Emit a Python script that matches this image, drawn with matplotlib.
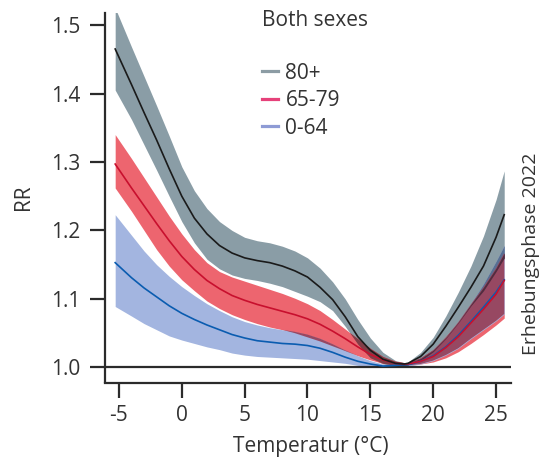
import numpy as np
import matplotlib
matplotlib.use("Agg")
import matplotlib.pyplot as plt
from matplotlib.colors import to_rgb
from matplotlib.lines import Line2D

plt.rcParams['font.family'] = ['Open Sans', 'DejaVu Sans']

# temperature grid (°C)
temps = [-5.3, -4, -3, -2, -1, 0, 1, 2, 3, 4, 5, 6, 7, 8, 9, 10, 11, 12, 13, 14,
         15, 16, 17, 17.7, 18, 19, 20, 21, 22, 23, 24, 25, 25.65]

# 80+
rr_80 = [1.465, 1.413, 1.372, 1.332, 1.290, 1.250, 1.218, 1.195, 1.178, 1.167, 1.160,
         1.156, 1.153, 1.148, 1.141, 1.132, 1.117, 1.099, 1.074, 1.045, 1.025, 1.012,
         1.006, 1.005, 1.006, 1.016, 1.034, 1.060, 1.088, 1.117, 1.148, 1.190, 1.223]
hi_80 = [1.525, 1.468, 1.425, 1.382, 1.338, 1.293, 1.258, 1.232, 1.213, 1.200, 1.190,
         1.185, 1.182, 1.177, 1.170, 1.160, 1.145, 1.125, 1.100, 1.070, 1.043, 1.022,
         1.010, 1.007, 1.008, 1.022, 1.044, 1.075, 1.110, 1.148, 1.192, 1.245, 1.287]
lo_80 = [1.405, 1.362, 1.325, 1.288, 1.250, 1.213, 1.182, 1.158, 1.144, 1.135, 1.130,
         1.127, 1.123, 1.118, 1.111, 1.104, 1.096, 1.083, 1.060, 1.034, 1.014, 1.005,
         1.003, 1.003, 1.004, 1.010, 1.023, 1.042, 1.065, 1.090, 1.112, 1.140, 1.160]

# 65-79
rr_65 = [1.297, 1.262, 1.236, 1.210, 1.185, 1.162, 1.143, 1.127, 1.115, 1.105, 1.098,
         1.092, 1.087, 1.082, 1.077, 1.071, 1.063, 1.053, 1.042, 1.030, 1.019, 1.011,
         1.006, 1.005, 1.005, 1.009, 1.016, 1.029, 1.045, 1.065, 1.085, 1.107, 1.127]
hi_65 = [1.340, 1.305, 1.277, 1.249, 1.221, 1.195, 1.172, 1.153, 1.140, 1.132, 1.126,
         1.120, 1.114, 1.108, 1.101, 1.093, 1.083, 1.070, 1.056, 1.042, 1.028, 1.016,
         1.009, 1.007, 1.007, 1.014, 1.026, 1.045, 1.066, 1.092, 1.117, 1.145, 1.167]
lo_65 = [1.262, 1.228, 1.200, 1.172, 1.148, 1.128, 1.112, 1.097, 1.086, 1.077, 1.070,
         1.064, 1.059, 1.055, 1.050, 1.044, 1.038, 1.031, 1.024, 1.017, 1.011, 1.006,
         1.003, 1.003, 1.003, 1.005, 1.008, 1.014, 1.023, 1.035, 1.048, 1.062, 1.072]

# 0-64
rr_0 = [1.153, 1.131, 1.116, 1.103, 1.090, 1.079, 1.070, 1.062, 1.055, 1.048, 1.043,
        1.039, 1.037, 1.035, 1.034, 1.032, 1.028, 1.022, 1.015, 1.009, 1.005, 1.002,
        1.003, 1.004, 1.004, 1.009, 1.017, 1.030, 1.047, 1.067, 1.088, 1.110, 1.128]
hi_0 = [1.223, 1.193, 1.170, 1.150, 1.133, 1.118, 1.105, 1.093, 1.083, 1.074, 1.067,
        1.062, 1.058, 1.055, 1.052, 1.048, 1.042, 1.034, 1.025, 1.017, 1.010, 1.005,
        1.004, 1.005, 1.006, 1.013, 1.025, 1.043, 1.066, 1.093, 1.122, 1.155, 1.178]
lo_0 = [1.089, 1.075, 1.064, 1.055, 1.046, 1.040, 1.035, 1.030, 1.026, 1.021, 1.018,
        1.016, 1.015, 1.014, 1.013, 1.012, 1.010, 1.008, 1.006, 1.003, 1.001, 1.000,
        1.001, 1.002, 1.002, 1.005, 1.010, 1.018, 1.028, 1.042, 1.055, 1.068, 1.078]

labels = ['80+', '65-79', '0-64']
x = np.array(temps)

band_cols = ['#8a9da6', '#ed656f', '#a3b5e0']
line_cols = ['#1a1a1a', '#c8102e', '#0a5cb0']
legend_cols = ['#8c9ca4', '#e6417a', '#8e9bd5']
ink = '#2b2b2b'
txt = '#333333'
fs = 15

bands = [(np.array(lo_80), np.array(hi_80)),
         (np.array(lo_65), np.array(hi_65)),
         (np.array(lo_0), np.array(hi_0))]


def mult(*cols):
    out = np.ones(3)
    for c in cols:
        out = out * np.array(to_rgb(c))
    return tuple(out)


fig = plt.figure(figsize=(5.41, 4.65), dpi=100)
ax = fig.add_axes([105/541, 1 - 382.5/465, 406/541, 369.8/465])

# bands, overlaps shaded like a multiply blend
for (lo, hi), c in zip(bands, band_cols):
    ax.fill_between(x, lo, hi, color=c, lw=0, zorder=1)
for i, j in [(0, 1), (0, 2), (1, 2)]:
    lo = np.maximum(bands[i][0], bands[j][0])
    hi = np.minimum(bands[i][1], bands[j][1])
    ax.fill_between(x, lo, hi, where=hi > lo, interpolate=True,
                    color=mult(band_cols[i], band_cols[j]), lw=0, zorder=2)
lo = np.maximum.reduce([b[0] for b in bands])
hi = np.minimum.reduce([b[1] for b in bands])
ax.fill_between(x, lo, hi, where=hi > lo, interpolate=True,
                color=mult(*band_cols), lw=0, zorder=3)

ax.axhline(1.0, color=ink, lw=1.6, zorder=4)

for rr, c in zip([rr_0, rr_65, rr_80], [line_cols[2], line_cols[1], line_cols[0]]):
    ax.plot(x, rr, color=c, lw=1.2, zorder=5)

ax.set_xlim(-6.11, 26.19)
ax.set_ylim(0.978, 1.518)
ax.set_xticks([-5, 0, 5, 10, 15, 20, 25])
ax.set_yticks([1.0, 1.1, 1.2, 1.3, 1.4, 1.5])
ax.set_xticklabels(['-5', '0', '5', '10', '15', '20', '25'])
ax.set_yticklabels(['1.0', '1.1', '1.2', '1.3', '1.4', '1.5'])

for s in ['top', 'right']:
    ax.spines[s].set_visible(False)
for s in ['left', 'bottom']:
    ax.spines[s].set_color(ink)
    ax.spines[s].set_linewidth(1.6)
ax.tick_params(axis='both', colors=ink, width=1.6, length=10.5, labelsize=fs,
               labelcolor=txt)
ax.tick_params(axis='y', pad=7)
ax.tick_params(axis='x', pad=6)

ax.set_xlabel('Temperatur (°C)', fontsize=fs, color=txt)
ax.set_ylabel('RR', fontsize=fs, color=txt)
ax.xaxis.set_label_coords(0.507, -0.145)
ax.yaxis.set_label_coords(-0.175, 0.5)

ax.text(0.387, 0.978, 'Both sexes', transform=ax.transAxes, fontsize=fs,
        color=txt, ha='left', va='center')
handles = [Line2D([], [], color=c, lw=2.3) for c in legend_cols]
ax.legend(handles, labels, loc='upper left', bbox_to_anchor=(0.387, 0.865),
          frameon=False, fontsize=fs, handlelength=0.77, handletextpad=0.35,
          labelspacing=0.31, borderpad=0, borderaxespad=0, labelcolor=txt)

fig.text(0.981, 0.455, 'Erhebungsphase 2022', rotation=90, fontsize=14,
         color=txt, ha='center', va='center')

fig.savefig('out.png', dpi=100)
